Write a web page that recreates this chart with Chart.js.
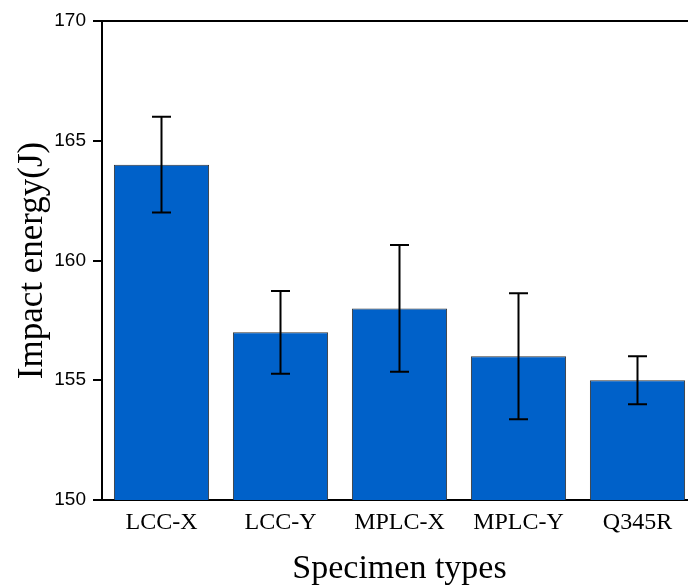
<!DOCTYPE html>
<html lang="en">
<head>
<meta charset="utf-8">
<title>Impact energy</title>
<script src="https://cdn.jsdelivr.net/npm/chart.js@4.4.1/dist/chart.umd.min.js"></script>
<style>
    html, body { margin: 0; padding: 0; overflow: hidden; background: #fff; }
    #wrap { width: 700px; height: 586px; position: relative; }
</style>
</head>
<body>

<div id="wrap">
    <canvas id="impactChart"></canvas>
</div>

<script>
    // data
    const specimens = ['LCC-X', 'LCC-Y', 'MPLC-X', 'MPLC-Y', 'Q345R'];
    const impactEnergy = [164, 157, 158, 156, 155];
    const energyError = [2.0, 1.73, 2.65, 2.63, 1.0];
    const yTicks = [150, 155, 160, 165, 170];

    // error bars + top/right frame
    const errorBars = {
        id: 'errorBars',
        afterDatasetsDraw(chart) {
            const ctx = chart.ctx;
            const meta = chart.getDatasetMeta(0);
            const y = chart.scales.y;
            ctx.save();
            ctx.strokeStyle = '#000';
            ctx.lineWidth = 2;
            meta.data.forEach((bar, i) => {
                const v = impactEnergy[i];
                const e = energyError[i];
                const top = y.getPixelForValue(v + e);
                const bot = y.getPixelForValue(v - e);
                const cap = 9.5;
                ctx.beginPath();
                ctx.moveTo(bar.x, top);
                ctx.lineTo(bar.x, bot);
                ctx.moveTo(bar.x - cap, top);
                ctx.lineTo(bar.x + cap, top);
                ctx.moveTo(bar.x - cap, bot);
                ctx.lineTo(bar.x + cap, bot);
                ctx.stroke();
            });
            const a = chart.chartArea;
            ctx.lineWidth = 2;
            ctx.beginPath();
            ctx.moveTo(a.left, a.top);
            ctx.lineTo(a.right, a.top);
            ctx.lineTo(a.right, a.bottom);
            ctx.stroke();
            ctx.restore();
        }
    };

    new Chart(document.getElementById('impactChart'), {
        type: 'bar',
        data: {
            labels: specimens,
            datasets: [{
                data: impactEnergy,
                backgroundColor: '#0061c9',
                borderColor: '#333333',
                borderWidth: 1,
                borderSkipped: false,
                barPercentage: 0.8,
                categoryPercentage: 1.0
            }]
        },
        options: {
            responsive: true,
            maintainAspectRatio: false,
            animation: false,
            layout: { padding: { top: 21, right: 3, left: 0, bottom: 0 } },
            plugins: {
                legend: { display: false },
                tooltip: { enabled: false }
            },
            scales: {
                x: {
                    grid: { display: false },
                    border: { display: true, color: '#000', width: 2 },
                    ticks: {
                        color: '#000',
                        padding: 0,
                        font: { family: '"Liberation Serif", "Times New Roman", serif', size: 24 }
                    },
                    title: {
                        display: true,
                        text: 'Specimen types',
                        color: '#000',
                        padding: { top: 0, bottom: 0 },
                        font: { family: '"Liberation Serif", "Times New Roman", serif', size: 34, lineHeight: 1.0 }
                    },
                    afterFit(scale) { scale.height = 86; }
                },
                y: {
                    min: 150,
                    max: 170,
                    afterBuildTicks(scale) { scale.ticks = yTicks.map(v => ({ value: v })); },
                    grid: {
                        drawOnChartArea: false,
                        drawTicks: true,
                        tickLength: 9,
                        color: '#000',
                        lineWidth: 2
                    },
                    border: { display: true, color: '#000', width: 2 },
                    ticks: {
                        color: '#000',
                        padding: 7,
                        font: { family: '"Liberation Sans", Arial, sans-serif', size: 19 }
                    },
                    title: {
                        display: true,
                        text: 'Impact energy(J)',
                        color: '#000',
                        padding: { top: 12, bottom: 0 },
                        font: { family: '"Liberation Serif", "Times New Roman", serif', size: 35, lineHeight: 1.2 }
                    },
                    afterFit(scale) { scale.width = 102; }
                }
            }
        },
        plugins: [errorBars]
    });
</script>

</body>
</html>
